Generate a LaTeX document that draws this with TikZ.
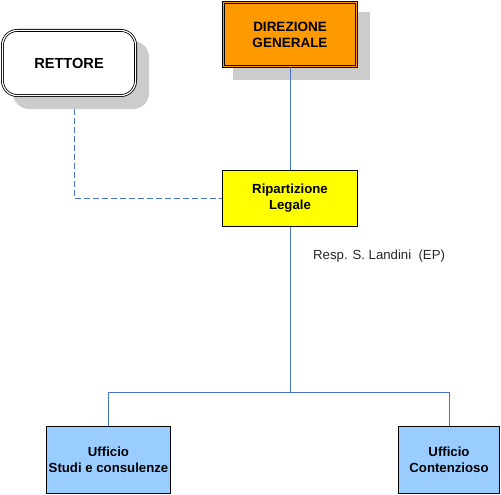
\documentclass[tikz,border=0pt]{standalone}
\usepackage{fontspec}
\setmainfont{Liberation Sans}
\definecolor{lineblue}{RGB}{68,114,196}
\definecolor{shadowgray}{RGB}{204,204,204}
\definecolor{dgorange}{RGB}{255,153,0}
\definecolor{ripyellow}{RGB}{255,255,0}
\definecolor{uffblue}{RGB}{153,204,255}
\begin{document}
\begin{tikzpicture}[x=1pt,y=-1pt,
  conn/.style={draw=lineblue,line width=0.9pt},
  dashconn/.style={conn,dash pattern=on 6pt off 3pt},
  dblbox/.style={draw=black,double,double distance=1.2pt,line width=0.8pt,inner sep=0pt,align=center,font=\bfseries\fontsize{13.5}{16}\selectfont},
  plainbox/.style={draw=black,line width=1pt,inner sep=0pt,align=center,font=\bfseries\fontsize{13.2}{16}\selectfont},
  note/.style={inner sep=0pt,anchor=west,font=\fontsize{13.2}{15}\selectfont,text=black!85}
]
\useasboundingbox (0,0) rectangle (501,495);
% shadows
\fill[shadowgray,rounded corners=16pt] (13,41) rectangle (149,109);
\fill[shadowgray] (233,12) rectangle (370,80);
% nodes
\node[dblbox,double=white,fill=white,rounded corners=15pt,minimum width=133.2pt,minimum height=65.2pt,font=\bfseries\fontsize{14.6}{16}\selectfont] (rett) at (69,63) {RETTORE};
\node[dblbox,double=dgorange,fill=dgorange,minimum width=133.2pt,minimum height=64.2pt] (dg) at (290,34.5) {DIREZIONE\\GENERALE};
\node[plainbox,fill=ripyellow,minimum width=135pt,minimum height=56pt] (rip) at (290,198.5) {Ripartizione\\Legale};
\node[plainbox,fill=uffblue,minimum width=124pt,minimum height=67pt] (studi) at (108.5,460) {Ufficio\\Studi e consulenze};
\node[plainbox,fill=uffblue,minimum width=101pt,minimum height=67pt] (cont) at (449,460) {Ufficio\\Contenzioso};
\node[note] (resp) at (313,256.5) {Resp. S. Landini\ \ (EP)};
% connectors
\coordinate (rs) at (74,109);
\coordinate (split) at (290,392);
\draw[conn] (dg.south) -- (rip.north);
\draw[conn] (rip.south) -- (split);
\draw[conn] (split) -| (studi.north);
\draw[conn] (split) -| (cont.north);
\draw[dashconn] (rs) |- (rip.west);
\end{tikzpicture}
\end{document}
